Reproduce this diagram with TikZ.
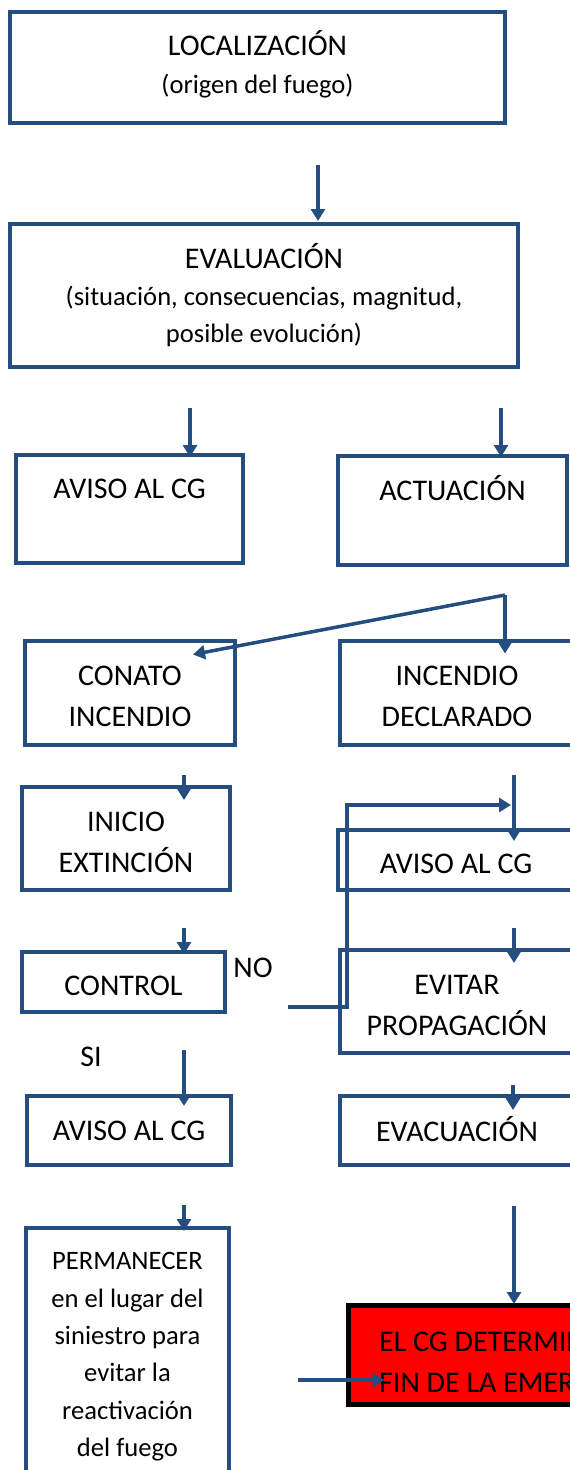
\documentclass[tikz,border=0pt]{standalone}
\usepackage{fontspec}
\setmainfont{Carlito}
\usetikzlibrary{arrows.meta,calc}
\definecolor{bl}{RGB}{36,78,128}
\definecolor{redfill}{RGB}{255,0,0}
\newcommand{\sm}{\fontsize{26.6pt}{37pt}\selectfont}
\newcommand{\lift}[1]{\rule{0pt}{#1}}
\begin{document}
\begin{tikzpicture}[x=1pt,y=-1pt,
  box/.style={draw=bl,line width=4pt,rectangle,inner sep=0pt,align=center,
    font=\fontsize{30pt}{41pt}\selectfont},
  tx/.style={execute at begin node={\rule{0pt}{#1}}},
  txd/.style={execute at end node={\rule[-#1]{0pt}{0pt}}},
  arr/.style={draw=bl,line width=3.5pt,-{Triangle[width=14pt,length=12pt]}},
  lbl/.style={inner sep=0pt,font=\fontsize{30pt}{41pt}\selectfont}]
\useasboundingbox (0,0) rectangle (570,1470);
\clip (0,0) rectangle (570,1470);
% boxes
\node[box,txd=11pt,minimum width=495pt,minimum height=111pt,font=\fontsize{30pt}{38pt}\selectfont] (loc) at (257.5,67) {LOCALIZACIÓN\\{\sm (origen del fuego)}};
\node[box,minimum width=508pt,minimum height=143pt,font=\fontsize{30pt}{37pt}\selectfont] (eval) at (264,295.5) {EVALUACIÓN\\{\sm (situación, consecuencias, magnitud,}\\{\sm posible evolución)}};
\node[box,minimum width=227pt,minimum height=108pt] (aviso1) at (129.5,509) {AVISO AL CG\\\mbox{}};
\node[box,txd=4pt,minimum width=229pt,minimum height=109pt] (actu) at (452.5,510.5) {ACTUACIÓN\\\mbox{}};
\node[box,minimum width=210pt,minimum height=104pt] (conato) at (130,692.5) {\lift{27.5pt}CONATO\\INCENDIO};
\node[box,minimum width=234pt,minimum height=104pt] (incdecl) at (457,692.5) {\lift{27.5pt}INCENDIO\\DECLARADO};
\node[box,minimum width=208pt,minimum height=103pt] (inicio) at (126,838.5) {\lift{27.5pt}INICIO\\EXTINCIÓN};
\node[box,tx=27.5pt,minimum width=236pt,minimum height=60pt] (aviso2) at (456,860) {AVISO AL CG};
\node[box,tx=27.5pt,minimum width=203pt,minimum height=60pt] (control) at (123.5,982) {CONTROL};
\node[box,minimum width=234pt,minimum height=103pt] (evitar) at (457,1001.5) {\lift{27.5pt}EVITAR\\PROPAGACIÓN};
\node[box,minimum width=204pt,minimum height=69pt] (aviso3) at (129,1130.5) {AVISO AL CG};
\node[box,txd=4pt,minimum width=234pt,minimum height=69pt] (evac) at (457,1130.5) {EVACUACIÓN};
\node[box,minimum width=203pt,minimum height=252pt,font=\fontsize{26.6pt}{37.4pt}\selectfont] (perm) at (127.5,1354) {\lift{23pt}PERMANECER\\en el lugar del\\siniestro para\\evitar la\\reactivación\\del fuego};
\node[draw=black,line width=5pt,fill=redfill,inner sep=0pt,minimum width=260pt,minimum height=99pt] (fin) at (478,1355) {};
\node[lbl,anchor=west,align=left] (fintxt) at (379,1362) {EL CG DETERMINA EL\\FIN DE LA EMERGENCIA};
% labels
\node[lbl] (no) at (253,968) {NO};
\node[lbl] (si) at (91,1057) {SI};
% connector start points
\coordinate (s1) at (318,165);
\coordinate (s2) at (190,408);
\coordinate (s3) at (501,408);
\coordinate (fork) at (505,595);
\coordinate (s4) at (184,775);
\coordinate (s5) at (514,775);
\coordinate (s6) at (184,928);
\coordinate (s7) at (514,928);
\coordinate (s8) at (184,1050);
\coordinate (s9) at (513,1085);
\coordinate (s10) at (184,1205);
\coordinate (s11) at (514,1206);
\coordinate (nost) at (288,1007);
\coordinate (noend) at (511,805);
\coordinate (fs) at (298,1380);
% connectors
\draw[arr] (s1) -- ($(s1 |- eval.north)+(0,-1)$);
\draw[arr] (s2) -- ($(s2 |- aviso1.north)+(0,4)$);
\draw[arr] (s3) -- ($(s3 |- actu.north)+(0,3)$);
\draw[arr] (fork) -- ($(conato.north east)+(-44,16)$);
\draw[arr] (fork) -- ($(fork |- incdecl.north)+(0,15)$);
\draw[arr] (s4) -- ($(s4 |- inicio.north)+(0,15)$);
\draw[arr] (s5) -- ($(s5 |- aviso2.north)+(0,13)$);
\draw[arr] (nost) -- ++(59,0) |- (noend);
\draw[arr] (s6) -- ($(s6 |- control.north)+(0,4)$);
\draw[arr] (s7) -- ($(s7 |- evitar.north)+(0,15)$);
\draw[arr] (s8) -- ($(s8 |- aviso3.north)+(0,12)$);
\draw[arr] (s9) -- ($(s9 |- evac.north)+(0,16)$);
\draw[arr] (s10) -- ($(s10 |- perm.north)+(0,5)$);
\draw[arr] (s11) -- ($(s11 |- fin.north)+(0,1)$);
\draw[arr] (fs) -- ($(fs -| fin.west)+(39,0)$);
\end{tikzpicture}
\end{document}
